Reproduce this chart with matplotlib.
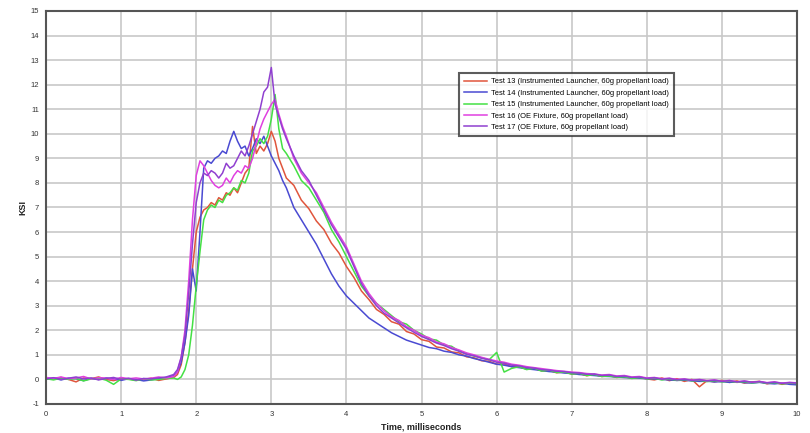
import matplotlib
matplotlib.use("Agg")
import matplotlib.pyplot as plt

# ---------------- data ----------------
time_ms = [
    0.0, 0.1, 0.2, 0.3, 0.4, 0.5, 0.6, 0.7, 0.8, 0.9, 1.0, 1.1, 1.2, 1.3, 1.4, 1.5, 1.6, 1.7,
    1.75, 1.80, 1.85, 1.90, 1.95, 2.00, 2.05, 2.10, 2.15, 2.20, 2.25, 2.30, 2.35, 2.40, 2.45,
    2.50, 2.55, 2.60, 2.65, 2.70, 2.75, 2.80, 2.85, 2.90, 2.95, 3.00, 3.05, 3.10, 3.15, 3.20,
    3.3, 3.4, 3.5, 3.6, 3.7, 3.8, 3.9, 4.0, 4.1, 4.2, 4.3, 4.4, 4.5, 4.6, 4.7, 4.8, 4.9,
    5.0, 5.1, 5.2, 5.3, 5.4, 5.5, 5.6, 5.7, 5.8, 5.9, 6.0, 6.1, 6.2, 6.3, 6.4, 6.5, 6.6,
    6.7, 6.8, 6.9, 7.0, 7.1, 7.2, 7.3, 7.4, 7.5, 7.6, 7.7, 7.8, 7.9, 8.0, 8.1, 8.2, 8.3,
    8.4, 8.5, 8.6, 8.7, 8.8, 8.9, 9.0, 9.1, 9.2, 9.3, 9.4, 9.5, 9.6, 9.7, 9.8, 9.9, 10.0,
]

test13 = [
    0.05, 0.02, 0.08, 0.00, -0.10, 0.06, 0.03, 0.10, 0.00, -0.05, 0.04, 0.02, -0.03, 0.00, 0.05, -0.04, 0.02, 0.08,
    0.20, 0.60, 1.50, 2.80, 4.50, 6.00, 6.60, 6.90, 7.00, 7.20, 7.10, 7.40, 7.30, 7.60, 7.50,
    7.80, 7.60, 8.00, 8.40, 8.60, 10.30, 9.20, 9.50, 9.30, 9.60, 10.10, 9.70, 9.00, 8.60, 8.20,
    7.90, 7.30, 6.95, 6.45, 6.10, 5.55, 5.15, 4.60, 4.15, 3.60, 3.25, 2.85, 2.65, 2.35, 2.25, 1.95, 1.85,
    1.62, 1.55, 1.32, 1.28, 1.12, 1.08, 0.92, 0.88, 0.76, 0.74, 0.62, 0.63, 0.52, 0.53, 0.42, 0.45, 0.35,
    0.36, 0.27, 0.31, 0.22, 0.24, 0.15, 0.20, 0.12, 0.16, 0.08, 0.13, 0.05, 0.10, 0.02, -0.02, 0.06, -0.05,
    0.03, -0.08, 0.00, -0.30, -0.05, -0.10, -0.04, -0.12, -0.06, -0.15, -0.10, -0.08, -0.18, -0.12, -0.20, -0.14, -0.18,
]

test14 = [
    0.00, 0.06, -0.02, 0.05, 0.03, -0.05, 0.04, 0.00, 0.06, 0.02, -0.04, 0.03, 0.00, -0.06, -0.02, 0.03, 0.08, 0.15,
    0.30, 0.70, 1.50, 2.60, 4.50, 3.60, 6.00, 8.60, 8.90, 8.80, 9.00, 9.10, 9.30, 9.20, 9.70,
    10.10, 9.70, 9.40, 9.50, 9.10, 9.40, 9.80, 9.60, 9.90, 9.50, 9.10, 8.80, 8.50, 8.10, 7.80,
    7.00, 6.50, 6.00, 5.50, 4.90, 4.30, 3.80, 3.40, 3.10, 2.80, 2.50, 2.30, 2.10, 1.90, 1.75, 1.60, 1.50,
    1.40, 1.30, 1.25, 1.15, 1.10, 1.00, 0.95, 0.85, 0.78, 0.70, 0.62, 0.58, 0.52, 0.48, 0.43, 0.40, 0.36,
    0.32, 0.30, 0.26, 0.24, 0.20, 0.18, 0.16, 0.13, 0.12, 0.10, 0.08, 0.06, 0.05, 0.03, 0.02, 0.00, -0.02,
    -0.04, -0.03, -0.06, -0.08, -0.07, -0.10, -0.09, -0.12, -0.10, -0.13, -0.15, -0.12, -0.16, -0.18, -0.15, -0.20, -0.22,
]

test15 = [
    0.03, -0.02, 0.05, 0.00, 0.04, -0.06, 0.02, 0.05, -0.03, -0.20, 0.02, 0.00, -0.05, 0.03, -0.02, 0.00, 0.04, 0.06,
    0.00, 0.10, 0.40, 1.00, 2.20, 3.80, 5.20, 6.50, 6.90, 7.10, 7.00, 7.30, 7.20, 7.50, 7.60,
    7.80, 7.70, 8.10, 8.00, 8.40, 9.30, 9.50, 9.80, 9.60, 9.90, 10.60, 11.60, 10.20, 9.40, 9.20,
    8.70, 8.10, 7.80, 7.30, 6.80, 6.10, 5.60, 5.00, 4.40, 3.80, 3.40, 3.10, 2.85, 2.60, 2.35, 2.25, 2.00,
    1.85, 1.65, 1.60, 1.40, 1.35, 1.15, 1.05, 0.95, 0.88, 0.80, 1.10, 0.30, 0.45, 0.52, 0.40, 0.46, 0.34,
    0.38, 0.28, 0.30, 0.22, 0.25, 0.16, 0.20, 0.12, 0.14, 0.09, 0.11, 0.04, 0.08, 0.02, 0.05, -0.02, 0.03,
    -0.04, 0.00, -0.06, -0.03, -0.09, -0.05, -0.10, -0.07, -0.12, -0.09, -0.14, -0.11, -0.15, -0.13, -0.18, -0.15, -0.17,
]

test16 = [
    0.08, 0.04, 0.10, 0.03, 0.06, 0.12, 0.02, 0.07, 0.05, 0.00, 0.08, 0.03, 0.06, 0.02, 0.05, 0.10, 0.06, 0.12,
    0.30, 0.90, 2.00, 4.00, 6.50, 8.30, 8.90, 8.70, 8.40, 8.10, 7.90, 7.80, 7.90, 8.20, 8.00,
    8.30, 8.50, 8.40, 8.70, 8.60, 9.00, 9.60, 10.20, 10.60, 10.90, 11.20, 11.40, 10.80, 10.30, 9.90,
    9.00, 8.40, 8.00, 7.60, 7.00, 6.40, 5.90, 5.40, 4.70, 4.00, 3.50, 3.10, 2.80, 2.55, 2.40, 2.15, 2.00,
    1.80, 1.70, 1.52, 1.45, 1.30, 1.20, 1.08, 1.00, 0.90, 0.82, 0.75, 0.70, 0.62, 0.58, 0.52, 0.48, 0.44,
    0.40, 0.36, 0.33, 0.30, 0.28, 0.24, 0.22, 0.18, 0.20, 0.14, 0.16, 0.10, 0.12, 0.06, 0.08, 0.03, 0.05,
    0.00, 0.02, -0.03, 0.00, -0.05, -0.02, -0.08, -0.04, -0.10, -0.06, -0.12, -0.08, -0.13, -0.10, -0.15, -0.12, -0.14,
]

test17 = [
    0.02, 0.07, 0.00, 0.05, 0.10, 0.02, 0.06, -0.02, 0.04, 0.08, 0.00, 0.05, -0.03, 0.04, 0.02, 0.06, 0.10, 0.20,
    0.40, 0.90, 1.80, 3.50, 5.50, 7.20, 8.00, 8.40, 8.30, 8.50, 8.40, 8.20, 8.40, 8.80, 8.60,
    8.70, 9.00, 9.30, 9.10, 9.50, 10.00, 10.50, 11.00, 11.70, 11.90, 12.70, 11.20, 10.70, 10.20, 9.80,
    9.10, 8.50, 8.10, 7.50, 6.90, 6.30, 5.80, 5.30, 4.60, 3.90, 3.40, 3.00, 2.70, 2.50, 2.30, 2.10, 1.92,
    1.75, 1.62, 1.48, 1.38, 1.25, 1.15, 1.02, 0.96, 0.86, 0.80, 0.70, 0.66, 0.58, 0.55, 0.48, 0.46, 0.40,
    0.38, 0.33, 0.32, 0.27, 0.26, 0.21, 0.22, 0.16, 0.18, 0.12, 0.14, 0.08, 0.10, 0.04, 0.07, 0.01, 0.04,
    -0.02, 0.01, -0.04, -0.01, -0.06, -0.03, -0.08, -0.05, -0.10, -0.07, -0.11, -0.09, -0.14, -0.11, -0.16, -0.13, -0.15,
]

labels = [
    "Test 13 (Instrumented Launcher, 60g propellant load)",
    "Test 14 (Instrumented Launcher, 60g propellant load)",
    "Test 15 (Instrumented Launcher, 60g propellant load)",
    "Test 16 (OE Fixture, 60g propellant load)",
    "Test 17 (OE Fixture, 60g propellant load)",
]
colors = ["#e0553c", "#4a4ad2", "#44e044", "#e040e0", "#9040d0"]

x_ticks = [0, 1, 2, 3, 4, 5, 6, 7, 8, 9, 10]
y_ticks = [-1, 0, 1, 2, 3, 4, 5, 6, 7, 8, 9, 10, 11, 12, 13, 14, 15]

# ---------------- plot ----------------
plt.rcParams['font.family'] = ['Liberation Sans Narrow', 'Liberation Sans', 'DejaVu Sans']

fig = plt.figure(figsize=(8.10, 4.33), dpi=100)
ax = fig.add_axes([0.0568, 0.067, 0.9272, 0.9076])

series = [test13, test14, test15, test16, test17]
for ys, lab, c in zip(series, labels, colors):
    ax.plot(time_ms, ys, color=c, lw=1.1, label=lab)

ax.set_xlim(0, 10)
ax.set_ylim(-1, 15)
ax.set_xticks(x_ticks)
ax.set_yticks(y_ticks)
ax.set_xticklabels([str(v) for v in x_ticks])
ax.set_yticklabels([str(v) for v in y_ticks])
ax.grid(True, color="#c8c8c8", lw=1.2)
ax.set_axisbelow(True)
ax.tick_params(axis="both", labelsize=5.5, colors="#333333", length=0, pad=5)
for s in ax.spines.values():
    s.set_color("#555555")
    s.set_linewidth(1.5)

ax.set_xlabel("Time, milliseconds", fontsize=6.5, fontweight="bold", labelpad=3, color="#222222")
ax.set_ylabel("KSI", fontsize=6.5, fontweight="bold", labelpad=2, color="#222222")

leg = ax.legend(loc="upper left", bbox_to_anchor=(0.545, 0.852), fontsize=5.4,
                frameon=True, fancybox=False, handlelength=3.0, borderpad=0.7,
                labelspacing=0.55, handletextpad=0.6)
leg.get_frame().set_edgecolor("#333333")
leg.get_frame().set_linewidth(1.5)

fig.savefig("out.png", dpi=100)
